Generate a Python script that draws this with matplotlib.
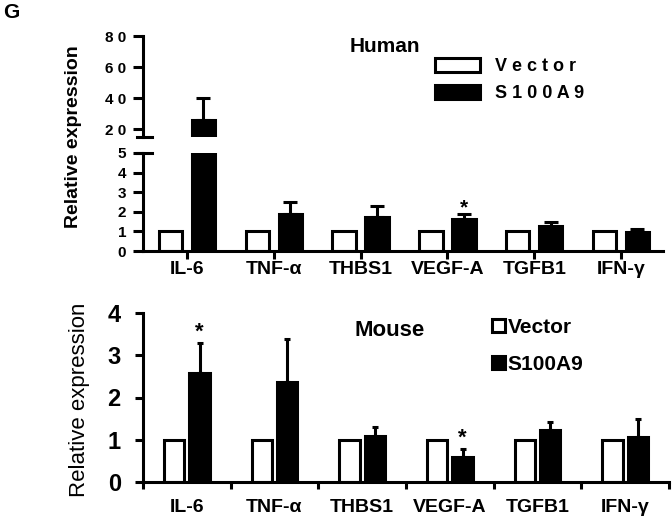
import matplotlib
matplotlib.use("Agg")
import matplotlib.pyplot as plt
import numpy as np

plt.rcParams['font.family'] = ['Liberation Sans', 'DejaVu Sans']
plt.rcParams['font.weight'] = 'bold'

# data
genes = ["IL-6", "TNF-α", "THBS1", "VEGF-A", "TGFB1", "IFN-γ"]
human_vector = [1, 1, 1, 1, 1, 1]
human_s100a9 = [25.8, 1.9, 1.73, 1.65, 1.3, 0.97]
human_err = [14.2, 0.62, 0.55, 0.23, 0.17, 0.15]
human_star = [False, False, False, True, False, False]

mouse_vector = [1, 1, 1, 1, 1, 1]
mouse_s100a9 = [2.58, 2.36, 1.09, 0.6, 1.23, 1.07]
mouse_err = [0.72, 1.02, 0.21, 0.18, 0.19, 0.43]
mouse_star = [True, False, False, True, False, False]

W, H = 672, 522
fig = plt.figure(figsize=(W / 100, H / 100), dpi=100)


def box(l, t, r, b):
    # pixel box -> figure fraction rect
    return [l / W, 1 - b / H, (r - l) / W, (b - t) / H]


lw = 2.2
x = np.arange(len(genes))

# ---------- top panel (Human), broken y axis ----------
ax_hi = fig.add_axes(box(143, 36, 663, 137))
ax_lo = fig.add_axes(box(143, 153, 663, 251))

off, bw = 0.19, 0.27
for ax in (ax_hi, ax_lo):
    b1 = ax.bar(x - off, human_vector, bw, color='white', edgecolor='black', linewidth=lw, zorder=2)
    b2 = ax.bar(x + off, human_s100a9, bw, color='black', edgecolor='black', linewidth=lw, zorder=2)
    ax.errorbar(x + off, human_s100a9, yerr=[np.zeros(6), human_err], fmt='none',
                ecolor='black', elinewidth=lw, capsize=5, capthick=lw, zorder=3)
    ax.set_xlim(-0.507, 5.484)
    for s in ('top', 'right'):
        ax.spines[s].set_visible(False)
    ax.spines['left'].set_linewidth(lw)
    ax.spines['bottom'].set_linewidth(lw)
    ax.tick_params(axis='y', direction='out', length=7, width=lw, labelsize=11, pad=5)

ax_hi.set_ylim(15, 80)
ax_hi.spines['bottom'].set_visible(False)
ax_hi.set_xticks([])
ax_hi.set_yticks([20, 40, 60, 80])
ax_hi.set_yticklabels(["2 0", "4 0", "6 0", "8 0"])

ax_lo.set_ylim(0, 5)
ax_lo.set_yticks([0, 1, 2, 3, 4, 5])
ax_lo.set_xticks(x)
ax_lo.set_xticklabels(genes, fontsize=14)
ax_lo.tick_params(axis='x', direction='out', length=6, width=lw, pad=1)

# break marks
ax_hi.plot([-0.012, 0.017], [0, 0], transform=ax_hi.transAxes, color='black', lw=lw, clip_on=False)
ax_lo.plot([-0.012, 0.017], [1, 1], transform=ax_lo.transAxes, color='black', lw=lw, clip_on=False)

for i, s in enumerate(human_star):
    if s:
        ax_lo.annotate("*", (x[i] + off, human_s100a9[i] + human_err[i]), xytext=(0, -2),
                       textcoords='offset points', ha='center', va='bottom', fontsize=15)

fig.text(74 / W, 1 - 137 / H, "Relative expression", rotation=90, ha='center', va='center', fontsize=14)
fig.text(385 / W, 1 - 46 / H, "Human", ha='center', va='center', fontsize=15)
ax_lo.legend([b1, b2], ["V e c t o r", "S 1 0 0 A 9"], loc='upper left',
             bbox_to_anchor=(435 / W, 1 - 58 / H), bbox_transform=fig.transFigure,
             frameon=False, fontsize=13, handlelength=2.5, handleheight=0.8,
             handletextpad=0.85, labelspacing=0.55, borderpad=0, borderaxespad=0)

# ---------- bottom panel (Mouse) ----------
ax2 = fig.add_axes(box(143, 313, 669, 482))
off2, bw2 = 0.145, 0.23
m1 = ax2.bar(x - off2, mouse_vector, bw2, color='white', edgecolor='black', linewidth=lw, zorder=2)
m2 = ax2.bar(x + off2, mouse_s100a9, bw2, color='black', edgecolor='black', linewidth=lw, zorder=2)
ax2.errorbar(x + off2, mouse_s100a9, yerr=[np.zeros(6), mouse_err], fmt='none',
             ecolor='black', elinewidth=lw, capsize=2.5, capthick=lw, zorder=3)
ax2.set_xlim(-0.5, 5.5)
ax2.set_ylim(0, 4)
for s in ('top', 'right'):
    ax2.spines[s].set_visible(False)
ax2.spines['left'].set_linewidth(lw)
ax2.spines['bottom'].set_linewidth(lw)
ax2.set_yticks([0, 1, 2, 3, 4])
ax2.tick_params(axis='y', direction='out', length=6, width=lw, labelsize=17, pad=10)
ax2.set_xticks(x)
ax2.set_xticklabels(genes, fontsize=14)
ax2.set_xticks(np.arange(-0.5, 6.0, 1.0), minor=True)
ax2.tick_params(axis='x', which='major', length=0, pad=12)
ax2.tick_params(axis='x', which='minor', direction='out', length=5, width=lw)

for i, s in enumerate(mouse_star):
    if s:
        ax2.annotate("*", (x[i] + off2, mouse_s100a9[i] + mouse_err[i]), xytext=(0, 0),
                     textcoords='offset points', ha='center', va='bottom', fontsize=16)

fig.text(80 / W, 1 - 400 / H, "Relative expression", rotation=90, ha='center', va='center',
         fontsize=16, fontweight='normal')
fig.text(390 / W, 1 - 331 / H, "Mouse", ha='center', va='center', fontsize=16)
ax2.legend([m1, m2], ["Vector", "S100A9"], loc='upper left',
           bbox_to_anchor=(492 / W, 1 - 318 / H), bbox_transform=fig.transFigure,
           frameon=False, fontsize=15, handlelength=0.62, handleheight=0.55,
           handletextpad=0.12, labelspacing=0.85, borderpad=0, borderaxespad=0)

fig.text(3 / W, 1 - 12 / H, "G", ha='left', va='center', fontsize=15)

fig.savefig("out.png", dpi=100)
